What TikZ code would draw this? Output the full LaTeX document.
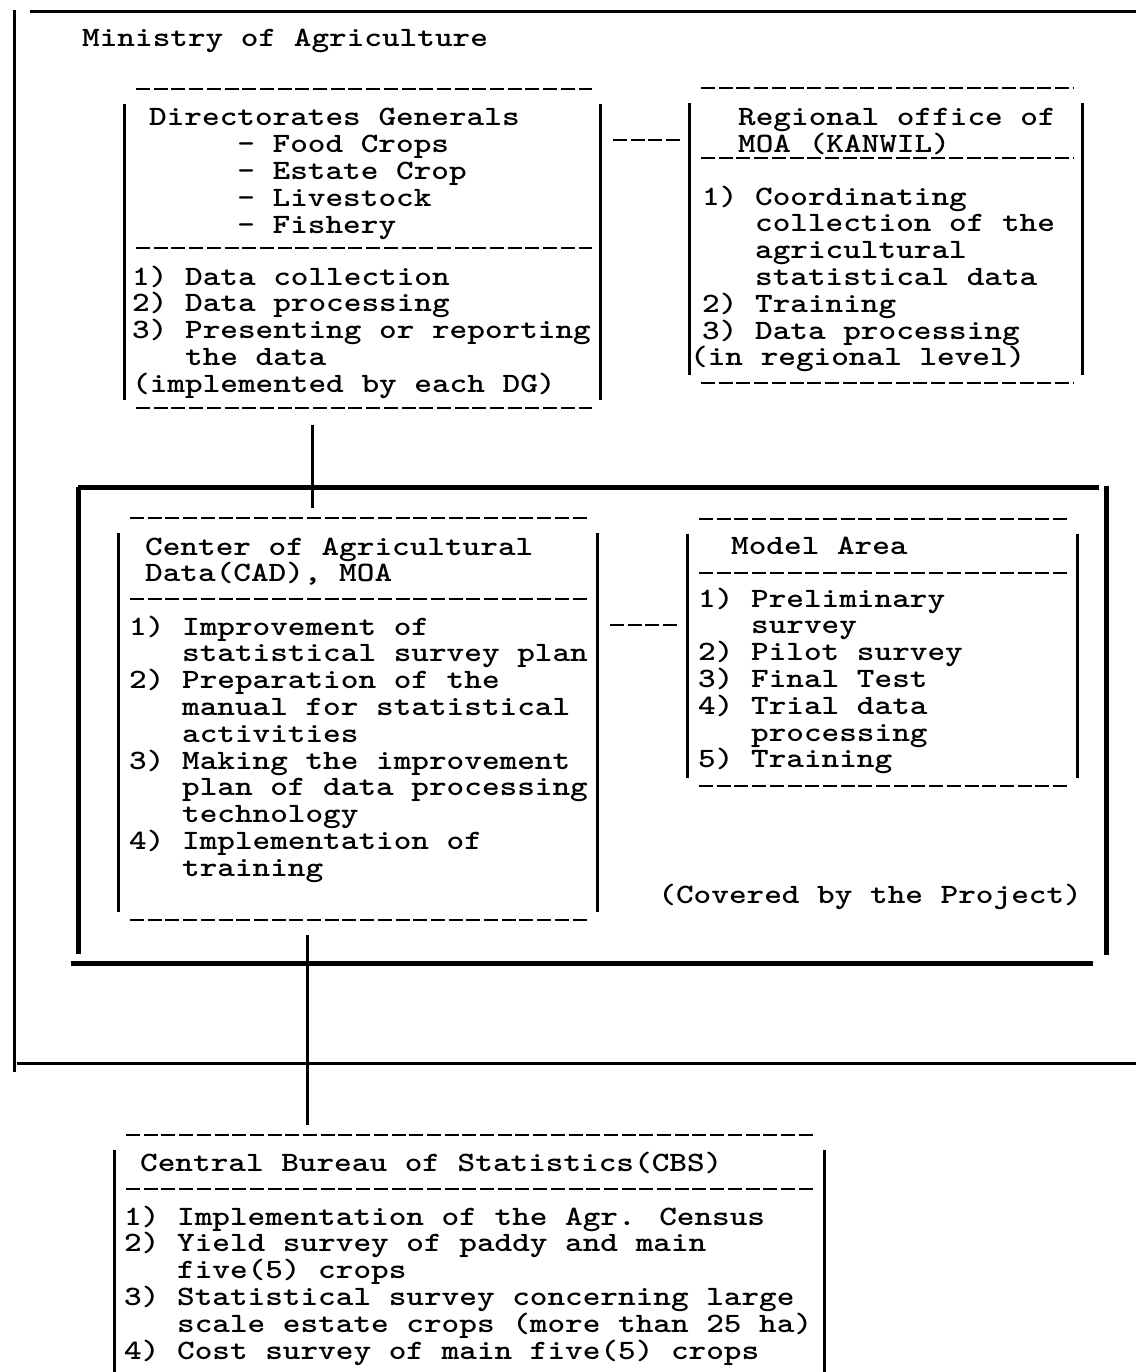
\documentclass[tikz,border=0pt]{standalone}
\usepackage{fontspec}
\newfontfamily\typewriter{lmmonolt10-bold.otf}[FakeStretch=1.2]
\usetikzlibrary{calc, positioning, fit}
\tikzset{
	typedash/.style = {line width=2.6pt, dash pattern=on 14pt off 3.7pt},
	typebar/.style  = {line width=3pt},
	heavy/.style    = {line width=5pt},
	box/.style      = {inner sep=0pt, outer sep=0pt},
	typed/.style    = {font={\typewriter\fontsize{28pt}{26.8pt}\selectfont\lineskiplimit=-100pt\relax}, align=left, inner sep=0pt, anchor=base west},
}
\newcommand\typebox[1]{%
	\draw[typedash] ([xshift=12pt]#1.north west) -- ([xshift=-8pt]#1.north east);
	\draw[typedash] ([xshift=12pt]#1.south west) -- ([xshift=-8pt]#1.south east);
	\draw[typebar]  ([yshift=-15pt]#1.north west) -- ([yshift=8pt]#1.south west);
	\draw[typebar]  ([yshift=-15pt]#1.north east) -- ([yshift=8pt]#1.south east);
}

\begin{document}
\begin{tikzpicture}[x=1pt, y=-1pt]
	\useasboundingbox (0,0) rectangle (1136,1372);
	% boxes
	\node (moa)     [box, fit={(14,12) (1136,1063)}] {};
	\node (dg)      [box, fit={(124,89) (600,408)}] {};
	\node (kanwil)  [box, fit={(689,88) (1082,383)}] {};
	\node (project) [box, fit={(78,487) (1106,963)}] {};
	\node (cad)     [box, fit={(118,518) (597,920)}] {};
	\node (model)   [box, fit={(687,519) (1077,786)}] {};
	\node (cbs)     [box, fit={(114,1135) (824,1380)}] {};

	\draw[typebar] ([xshift=16pt]moa.north west) -- (moa.north east);
	\draw[typebar] ([yshift=2pt]moa.north west) -- ([yshift=-9pt]moa.south west);
	\draw[typebar] ([xshift=3pt]moa.south west) -- (moa.south east);

	\draw[heavy] (project.north west) -- ([xshift=-7pt]project.north east);
	\draw[heavy] (project.north west) -- ([yshift=9pt]project.south west);
	\draw[heavy] ([yshift=1pt]project.north east) -- ([yshift=8pt]project.south east);
	\draw[heavy] ([xshift=-7pt]project.south west) -- ([xshift=-13pt]project.south east);

	\typebox{dg}
	\typebox{kanwil}
	\typebox{cad}
	\typebox{model}
	\draw[typedash] ([xshift=12pt]cbs.north west) -- ([xshift=-8pt]cbs.north east);
	\draw[typebar]  ([yshift=-15pt]cbs.north west) -- (cbs.south west);
	\draw[typebar]  ([yshift=-15pt]cbs.north east) -- (cbs.south east);

	% separators
	\draw[typedash] (136,248) -- (592,248);
	\draw[typedash] (701,158) -- (1074,158);
	\draw[typedash] (130,599) -- (589,599);
	\draw[typedash] (699,573) -- (1069,573);
	\draw[typedash] (126,1189) -- (816,1189);

	% connectors
	\draw[typedash] ([shift={(13,51)}]dg.north east) -- ([shift={(-6,52)}]kanwil.north west);
	\draw[typedash] ([shift={(13,107)}]cad.north east) -- ([shift={(-9,106)}]model.north west);
	\draw[typebar]  ([shift={(188,17)}]dg.south west) -- ([shift={(234,21)}]project.north west);
	\draw[typebar]  ([shift={(189,15)}]cad.south west) -- ([shift={(193,-10)}]cbs.north west);

	% texts (placed at the baseline of their last line)
	\node (moaname) [typed] at (82,47) {Ministry of Agriculture};
	\node (dgname)  [typed] at (149,233.2) {Directorates Generals\\
		~~~~~- Food Crops\\ ~~~~~- Estate Crop\\ ~~~~~- Livestock\\ ~~~~~- Fishery};
	\node (dgtasks) [typed] at (132,392.2) {1) Data collection\\ 2) Data processing\\
		3) Presenting or reporting\\ ~~~the data\\ (implemented by each DG)};
	\node (kanwilname)  [typed] at (738,152.8) {Regional office of\\ MOA (KANWIL)};
	\node (kanwiltasks) [typed] at (702,365.8) {1) Coordinating\\ ~~~collection of the\\
		~~~agricultural\\ ~~~statistical data\\ 2) Training\\ 3) Data processing\\
		\hspace*{-12pt}(in regional level)};
	\node (cadname)  [typed] at (145,581.8) {Center of Agricultural\\ Data(CAD), MOA};
	\node (cadtasks) [typed] at (129,876.2) {1) Improvement of\\ ~~~statistical survey plan\\
		2) Preparation of the\\ ~~~manual for statistical\\ ~~~activities\\
		3) Making the improvement\\ ~~~plan of data processing\\ ~~~technology\\
		4) Implementation of\\ ~~~training};
	\node (modelname)  [typed] at (731,554) {Model Area};
	\node (modeltasks) [typed] at (698,767.8) {1) Preliminary\\ ~~~survey\\ 2) Pilot survey\\
		3) Final Test\\ 4) Trial data\\ ~~~processing\\ 5) Training};
	\node (covered) [typed, anchor=base east] at (1082,903) {(Covered by the Project)};
	\node (cbsname)  [typed] at (140,1171) {Central Bureau of Statistics(CBS)};
	\node (cbstasks) [typed] at (124,1359) {1) Implementation of the Agr. Census\\
		2) Yield survey of paddy and main\\ ~~~five(5) crops\\
		3) Statistical survey concerning large\\ ~~~scale estate crops (more than 25 ha)\\
		4) Cost survey of main five(5) crops};
\end{tikzpicture}
\end{document}
